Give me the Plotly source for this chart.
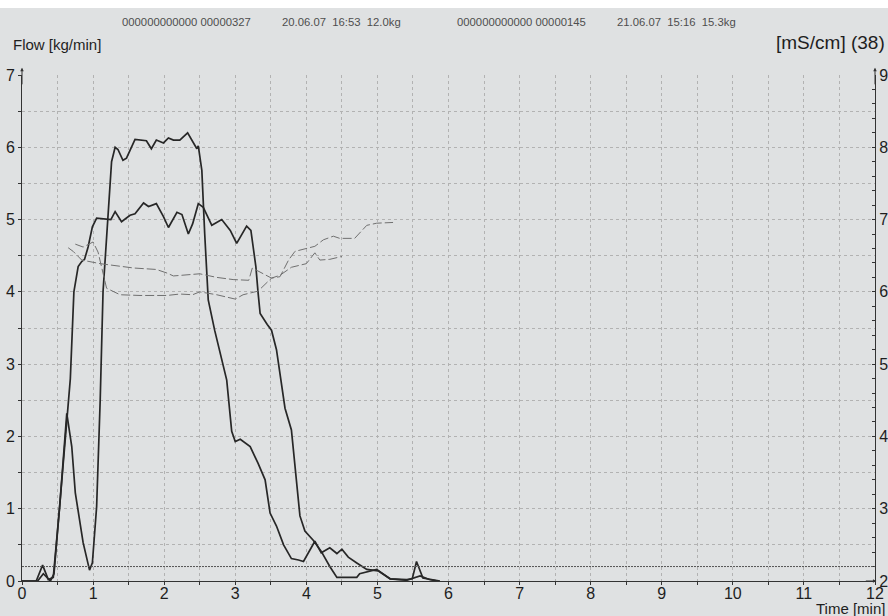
import plotly.graph_objects as go

# ---- data ----
t_flow1 = [0, 0.2, 0.29, 0.37, 0.44, 0.53, 0.63, 0.70, 0.75, 0.86, 0.95, 0.99, 1.05, 1.10, 1.14, 1.26, 1.31,
           1.35, 1.42, 1.47, 1.59, 1.75, 1.82, 1.89, 1.99, 2.06, 2.13, 2.22, 2.33, 2.40, 2.46, 2.48, 2.53,
           2.57, 2.62, 2.71, 2.80, 2.88, 2.95, 3.0, 3.07, 3.21, 3.32, 3.42, 3.49, 3.58, 3.68, 3.79, 3.89,
           3.96, 4.12, 4.21, 4.33, 4.43, 4.50, 4.59, 4.71, 4.85, 5.01, 5.18, 5.41, 5.60, 5.73, 5.85]
flow1 = [0, 0, 0.22, 0.02, 0.05, 1.03, 2.32, 1.86, 1.22, 0.53, 0.15, 0.25, 1.03, 2.5, 4.0, 5.8, 6.0,
         5.97, 5.82, 5.85, 6.11, 6.09, 5.98, 6.1, 6.06, 6.13, 6.1, 6.1, 6.2, 6.07, 5.98, 6.02, 5.68,
         4.81, 3.89, 3.47, 3.1, 2.78, 2.07, 1.93, 1.96, 1.86, 1.63, 1.40, 0.94, 0.76, 0.50, 0.31, 0.29,
         0.27, 0.55, 0.39, 0.46, 0.38, 0.44, 0.33, 0.25, 0.16, 0.14, 0.03, 0.01, 0.07, 0.02, 0]

t_flow2 = [0, 0.22, 0.3, 0.4, 0.45, 0.53, 0.63, 0.68, 0.73, 0.79, 0.84, 0.88, 0.93, 0.99, 1.05, 1.19,
           1.25, 1.31, 1.40, 1.52, 1.59, 1.71, 1.78, 1.89, 1.99, 2.06, 2.18, 2.25, 2.34, 2.40, 2.48,
           2.55, 2.67, 2.81, 2.93, 3.02, 3.16, 3.22, 3.29, 3.32, 3.35, 3.45, 3.51, 3.58, 3.65, 3.70,
           3.79, 3.86, 3.91, 3.98, 4.10, 4.21, 4.33, 4.43, 4.71, 4.75, 4.99, 5.18, 5.41, 5.49, 5.55,
           5.64, 5.88]
flow2 = [0, 0, 0.1, 0, 0.1, 1.0, 2.2, 2.8, 4.0, 4.35, 4.42, 4.45, 4.62, 4.9, 5.02, 5.01,
         5.0, 5.11, 4.97, 5.06, 5.08, 5.23, 5.18, 5.22, 5.04, 4.89, 5.1, 5.07, 4.8, 4.94, 5.22,
         5.17, 4.92, 5.0, 4.85, 4.67, 4.91, 4.85, 4.35, 4.0, 3.70, 3.55, 3.47, 3.2, 2.69, 2.39,
         2.09, 1.40, 0.9, 0.69, 0.56, 0.41, 0.2, 0.05, 0.05, 0.1, 0.16, 0.03, 0.02, 0.03, 0.27,
         0.04, 0]

t_cond1 = [0.65, 0.72, 0.84, 1.10, 1.57, 1.89, 2.04, 2.13, 2.50, 2.74, 2.97, 3.19, 3.24, 3.37, 3.51,
           3.63, 3.75, 3.84, 4.00, 4.12, 4.24, 4.38, 4.47, 4.68, 4.85, 4.99, 5.22]
cond1 = [6.61, 6.56, 6.44, 6.39, 6.33, 6.31, 6.26, 6.22, 6.25, 6.20, 6.17, 6.16, 6.33, 6.26, 6.19,
         6.21, 6.44, 6.56, 6.60, 6.63, 6.72, 6.77, 6.74, 6.74, 6.92, 6.95, 6.96]

t_cond2 = [0.75, 0.86, 1.0, 1.07, 1.19, 1.38, 1.66, 2.04, 2.22, 2.40, 2.50, 2.74, 3.0, 3.11, 3.32,
           3.51, 3.63, 3.79, 4.0, 4.12, 4.19, 4.33, 4.50]
cond2 = [6.66, 6.62, 6.69, 6.55, 6.05, 5.96, 5.95, 5.95, 5.97, 5.96, 6.00, 5.96, 5.90, 5.96, 6.01,
         6.19, 6.23, 6.34, 6.39, 6.54, 6.44, 6.45, 6.49]

x_ticks = list(range(0, 13))
flow_ticks = list(range(0, 8))
cond_ticks = list(range(2, 10))
THRESHOLD = 0.2

header_left_id = "000000000000 00000327"
header_left_info = "20.06.07\u00a0\u00a016:53\u00a0\u00a012.0kg"
header_right_id = "000000000000 00000145"
header_right_info = "21.06.07\u00a0\u00a015:16\u00a0\u00a015.3kg"

# ---- styling ----
BG = "#dfe1e2"
GRID = "#b2b2b2"
AX = "#333333"
FONT = "Liberation Sans, Arial, sans-serif"
W, H = 888, 616
ML, MR, MT, MB = 22, 13, 75, 35
PW, PH = W - ML - MR, H - MT - MB
GRIDDASH = "3px,3px"


def px_x(px):
    return (px - ML) / PW


def px_y(py):
    return (H - MB - py) / PH


fig = go.Figure()
solid = dict(color="#272727", width=1.7)
dashed = dict(color="#707070", width=1, dash="9px,3px")
fig.add_trace(go.Scatter(x=t_cond1, y=cond1, mode="lines", line=dashed, yaxis="y2"))
fig.add_trace(go.Scatter(x=t_cond2, y=cond2, mode="lines", line=dashed, yaxis="y2"))
fig.add_trace(go.Scatter(x=t_flow1, y=flow1, mode="lines", line=solid))
fig.add_trace(go.Scatter(x=t_flow2, y=flow2, mode="lines", line=solid))

grid_common = dict(showgrid=True, gridcolor=GRID, gridwidth=1, griddash=GRIDDASH)
tickfont = dict(family=FONT, size=16, color="#1e1e1e")

fig.update_layout(
    width=W, height=H,
    margin=dict(l=ML, r=MR, t=MT, b=MB, autoexpand=False),
    paper_bgcolor=BG, plot_bgcolor=BG,
    showlegend=False,
    font=dict(family=FONT),
    xaxis=dict(range=[0, 12], tickvals=x_ticks, ticktext=[str(v) for v in x_ticks],
               ticks="outside", ticklen=3, tickcolor=AX, showline=True, linecolor=AX, linewidth=1,
               zeroline=False, tickfont=tickfont, automargin=False, ticklabelstandoff=-5,
               minor=dict(dtick=0.5, ticks="outside", ticklen=3, tickcolor=AX,
                          showgrid=True, gridcolor=GRID, griddash=GRIDDASH),
               **grid_common),
    yaxis=dict(range=[0, 7], tickvals=flow_ticks, ticktext=[str(v) for v in flow_ticks],
               ticks="outside", ticklen=3, tickcolor=AX, showline=True, linecolor=AX, linewidth=1,
               zeroline=False, tickfont=tickfont, automargin=False, ticklabelstandoff=0,
               minor=dict(dtick=0.5, ticks="outside", ticklen=3, tickcolor=AX,
                          showgrid=True, gridcolor=GRID, griddash=GRIDDASH),
               **grid_common),
    yaxis2=dict(range=[2, 9], overlaying="y", side="right", tickvals=cond_ticks,
                ticktext=[str(v) for v in cond_ticks], ticks="inside", ticklen=3, tickcolor=AX,
                showline=True, linecolor=AX, linewidth=1, showgrid=False, zeroline=False,
                tickfont=tickfont, automargin=False, ticklabelstandoff=0,
                minor=dict(dtick=0.2, ticks="inside", ticklen=3, tickcolor=AX, showgrid=False)),
)

fig.add_shape(type="line", xref="x", yref="y", x0=0, x1=12, y0=THRESHOLD, y1=THRESHOLD,
              line=dict(color="#555555", width=1, dash="2px,1px"), layer="above")
fig.add_shape(type="rect", xref="paper", yref="paper", x0=-0.1, x1=1.1,
              y0=px_y(8), y1=px_y(-5), fillcolor="white", line=dict(width=0), layer="above")

annos = [
    dict(text=header_left_id, x=px_x(120), y=px_y(22), size=11.3, color="#4e4e4e", xa="left"),
    dict(text=header_left_info, x=px_x(280), y=px_y(22), size=11.3, color="#4e4e4e", xa="left"),
    dict(text=header_right_id, x=px_x(455), y=px_y(22), size=11.3, color="#4e4e4e", xa="left"),
    dict(text=header_right_info, x=px_x(615), y=px_y(22), size=11.3, color="#4e4e4e", xa="left"),
    dict(text="Flow [kg/min]", x=px_x(11), y=px_y(45), size=15, color="#1e1e1e", xa="left"),
    dict(text="[mS/cm] (38)", x=px_x(887), y=px_y(43), size=19, color="#1e1e1e", xa="right"),
    dict(text="Time [min]", x=px_x(887), y=px_y(608), size=15, color="#1e1e1e", xa="right"),
]
for a in annos:
    fig.add_annotation(text=a["text"], xref="paper", yref="paper", x=a["x"], y=a["y"],
                       xanchor=a["xa"], yanchor="middle", showarrow=False,
                       font=dict(family=FONT, size=a["size"], color=a["color"]))

# axis arrowheads
for (x, y, ax_, ay_) in [(0, 7.1, 0, 6.85), (12, 7.1, 12, 6.85), (12.02, 0, 11.85, 0)]:
    fig.add_annotation(x=x, y=y, ax=ax_, ay=ay_, xref="x", yref="y", axref="x", ayref="y",
                       text="", showarrow=True, arrowhead=2, arrowsize=0.7, arrowwidth=1,
                       arrowcolor=AX)

fig.write_html(
    "out.html",
    config={"displayModeBar": False},
    post_script="document.body.style.margin='0';document.body.style.overflow='hidden';",
)
